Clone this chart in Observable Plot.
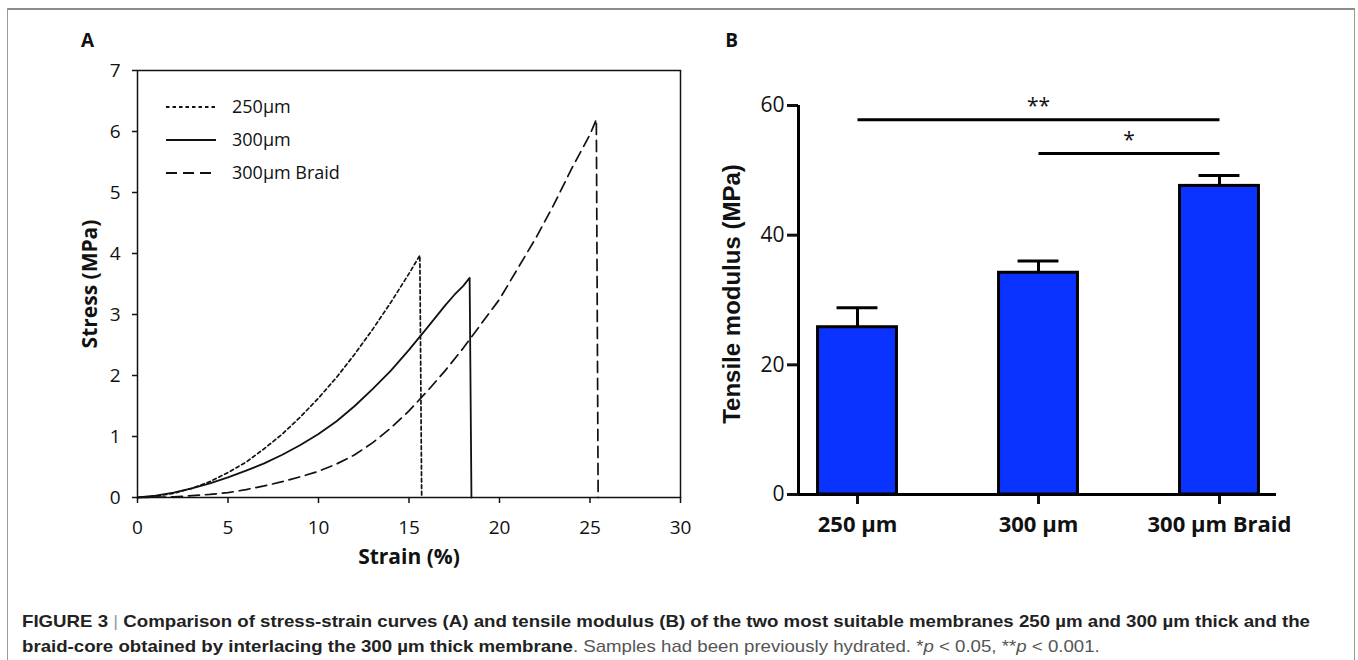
<!DOCTYPE html>
<html>
<head>
<meta charset="utf-8">
<script src="https://cdn.jsdelivr.net/npm/d3@7"></script>
<script src="https://cdn.jsdelivr.net/npm/@observablehq/plot@0.6"></script>
<style>
  body { margin: 0; background: #fff; }
  #root { position: relative; width: 1358px; height: 660px; overflow: hidden; background: #fff; }
  #border { position: absolute; left: 7px; top: 8px; width: 1348px; height: 720px; box-sizing: border-box;
            border: 1px solid #9a9a9a; border-top: 2px solid #8c8c8c; }
  .panel { position: absolute; top: 0; }
  #panelA { left: 0; }
  #panelB { left: 680px; }
  #panelA [aria-label^="y-axis"] *, #panelA [aria-label^="x-axis"] * { stroke-width: 1.5px; }
  #panelA [aria-label^="y-axis"] text, #panelA [aria-label^="x-axis"] text { font-size: 19px; }
  #panelB [aria-label^="y-axis"] *, #panelB [aria-label^="x-axis"] * { stroke-width: 3px; }
  #panelB [aria-label^="y-axis"] text { font-size: 21px; }
  #panelB [aria-label^="x-axis"] text { font-weight: bold; font-size: 22px; }
  #legend { position: absolute; left: 160px; top: 92px; }
  #caption { position: absolute; left: 22px; top: 609px; font-family: "Liberation Sans", Arial, sans-serif;
             font-size: 17px; line-height: 25px; color: #222; white-space: nowrap; transform-origin: 0 0; }
  #caption b { font-weight: bold; }
  #caption .sep { color: #999; font-weight: normal; }
  #caption .reg { color: #555; }
</style>
</head>
<body>
<div id="root">
  <div id="border"></div>
  <div id="panelA" class="panel"></div>
  <div id="panelB" class="panel"></div>
  <svg id="legend" width="250" height="100"></svg>
  <div id="caption">
    <span id="cap1"><b>FIGURE 3</b> <span class="sep">|</span> <b>Comparison of stress-strain curves (A) and tensile modulus (B) of the two most suitable membranes 250 µm and 300 µm thick and the</b></span><br>
    <span id="cap2"><b>braid-core obtained by interlacing the 300 µm thick membrane</b><span class="reg">. Samples had been previously hydrated. *<i>p</i> &lt; 0.05, **<i>p</i> &lt; 0.001.</span></span>
  </div>
</div>
<script>
// ---------- Panel A data: stress-strain curves ----------
const seriesNames = ["250µm", "300µm", "300µm Braid"];
const seriesDash = ["3.5,3", "none", "11,6"];

const strain250 = [0, 1, 2, 3, 4, 5, 6, 7, 8, 9, 10, 11, 12, 13, 14, 15, 15.6, 15.7];
const stress250 = [0, 0.02, 0.07, 0.15, 0.26, 0.41, 0.58, 0.80, 1.04, 1.32, 1.63, 1.97, 2.35, 2.76, 3.20, 3.67, 3.97, 0];

const strain300 = [0, 1, 2, 3, 4, 5, 6, 7, 8, 9, 10, 11, 12, 13, 14, 15, 16, 17, 17.5, 18, 18.35, 18.45];
const stress300 = [0, 0.03, 0.08, 0.15, 0.23, 0.33, 0.44, 0.56, 0.70, 0.86, 1.04, 1.25, 1.50, 1.78, 2.08, 2.42, 2.78, 3.15, 3.32, 3.47, 3.60, 0];

const strainBraid = [0, 2, 4, 5, 6, 7, 8, 9, 10, 11, 12, 13, 14, 15, 16, 17, 18, 19, 20, 21, 22, 23, 24, 25, 25.35, 25.45];
const stressBraid = [0, 0.01, 0.05, 0.08, 0.13, 0.19, 0.26, 0.34, 0.43, 0.55, 0.70, 0.90, 1.14, 1.42, 1.74, 2.08, 2.45, 2.85, 3.25, 3.75, 4.25, 4.80, 5.40, 5.95, 6.20, 0];

const strainTicks = [0, 5, 10, 15, 20, 25, 30];
const stressTicks = [0, 1, 2, 3, 4, 5, 6, 7];

// ---------- Panel B data: tensile modulus ----------
const categories = ["250 µm", "300 µm", "300 µm Braid"];
const modulus = [25.8, 34.2, 47.6];
const modulusErr = [3.0, 1.8, 1.6];
const modulusTicks = [0, 20, 40, 60];
const sigFrom = [0, 1];
const sigTo = [2, 2];
const sigLevel = [57.8, 52.6];
const sigLabel = ["**", "*"];

// ---------- build tables ----------
const toRows = (xs, ys, name) => xs.map((x, i) => ({strain: x, stress: ys[i], series: name}));
const curves = [
  toRows(strain250, stress250, seriesNames[0]),
  toRows(strain300, stress300, seriesNames[1]),
  toRows(strainBraid, stressBraid, seriesNames[2])
];
const bars = categories.map((c, i) => ({i, cat: c, value: modulus[i], err: modulusErr[i]}));
const sigs = sigFrom.map((f, k) => ({from: f, to: sigTo[k], y: sigLevel[k], label: sigLabel[k]}));

const centered = {textAnchor: "middle", lineAnchor: "middle"};

// ---------- Panel A ----------
const plotA = Plot.plot({
  width: 700, height: 580,
  marginLeft: 137, marginRight: 20, marginTop: 70, marginBottom: 83,
  style: {fontFamily: "'Open Sans', sans-serif", fontSize: "19px", color: "#111", background: "transparent", overflow: "visible"},
  x: {domain: [0, 30], ticks: strainTicks, tickFormat: d3.format("d"), tickSize: 6, tickPadding: 17, label: null},
  y: {domain: [0, 7], ticks: stressTicks, tickFormat: d3.format("d"), tickSize: 5, tickPadding: 12, label: null},
  marks: [
    Plot.frame({stroke: "#111", strokeWidth: 1.5}),
    ...curves.map((rows, k) => Plot.line(rows, {
      x: "strain", y: "stress", stroke: "#111",
      strokeWidth: k === 1 ? 1.8 : 1.7,
      strokeDasharray: seriesDash[k] === "none" ? null : seriesDash[k]
    })),
    Plot.text(["Strain (%)"], {text: d => d, frameAnchor: "bottom", dy: 60, fontWeight: "bold", fontSize: 21, ...centered}),
    Plot.text(["Stress (MPa)"], {text: d => d, frameAnchor: "left", dx: -47, rotate: -90, fontWeight: "bold", fontSize: 21, ...centered}),
    Plot.text(["A"], {text: d => d, frameAnchor: "top-left", dx: -50, dy: -30, fontWeight: "bold", fontSize: 19, ...centered})
  ]
});
document.getElementById("panelA").appendChild(plotA);

// legend (overlay drawn with d3)
const lg = d3.select("#legend");
seriesNames.forEach((name, k) => {
  const y = 15 + k * 33;
  lg.append("line").attr("x1", 6).attr("x2", 56).attr("y1", y).attr("y2", y)
    .attr("stroke", "#111").attr("stroke-width", 1.8)
    .attr("stroke-dasharray", seriesDash[k] === "none" ? null : seriesDash[k]);
  lg.append("text").attr("x", 72).attr("y", y).attr("dy", "0.35em")
    .attr("font-family", "'Open Sans', sans-serif").attr("font-size", 18).attr("fill", "#111")
    .text(name);
});

// ---------- Panel B ----------
const xMin = -0.326, xMax = 2.315, barHalf = 0.218, capHalf = 0.113;
const plotB = Plot.plot({
  width: 678, height: 580,
  marginLeft: 118, marginRight: 82, marginTop: 105, marginBottom: 86,
  style: {fontFamily: "'Open Sans', sans-serif", fontSize: "21px", color: "#111", background: "transparent", overflow: "visible"},
  x: {domain: [xMin, xMax], ticks: categories.map((c, i) => i), tickFormat: i => categories[i], tickSize: 10, tickPadding: 12, label: null},
  y: {domain: [0, 60], ticks: modulusTicks, tickSize: 11, tickPadding: 3, label: null},
  marks: [
    Plot.ruleX(bars, {x: "i", y1: "value", y2: d => d.value + d.err, stroke: "#000", strokeWidth: 3}),
    Plot.ruleY(bars, {x1: d => d.i - capHalf, x2: d => d.i + capHalf, y: d => d.value + d.err, stroke: "#000", strokeWidth: 3}),
    Plot.rectY(bars, {x1: d => d.i - barHalf, x2: d => d.i + barHalf, y: "value", fill: "#0a33ff", stroke: "#000", strokeWidth: 3}),
    Plot.ruleY([0], {stroke: "#000", strokeWidth: 3}),
    Plot.ruleX([xMin], {y1: 0, y2: 60, stroke: "#000", strokeWidth: 3}),
    Plot.link(sigs, {x1: "from", x2: "to", y1: "y", y2: "y", stroke: "#000", strokeWidth: 3}),
    Plot.text(sigs, {x: d => (d.from + d.to) / 2, y: "y", text: "label", dy: -13, fontSize: 21}),
    Plot.text(["Tensile modulus (MPa)"], {text: d => d, frameAnchor: "left", dx: -66, dy: -6, rotate: -90,
      fontWeight: "bold", fontSize: 24, fontFamily: "'Liberation Sans', Arial, sans-serif", ...centered}),
    Plot.text(["B"], {text: d => d, frameAnchor: "top-left", dx: -67, dy: -65, fontWeight: "bold", fontSize: 19, ...centered})
  ]
});
document.getElementById("panelB").appendChild(plotB);

// ---------- caption fit ----------
const cap = document.getElementById("caption");
const w1 = document.getElementById("cap1").getBoundingClientRect().width;
cap.style.transform = `scaleX(${1288 / w1})`;
</script>
</body>
</html>
